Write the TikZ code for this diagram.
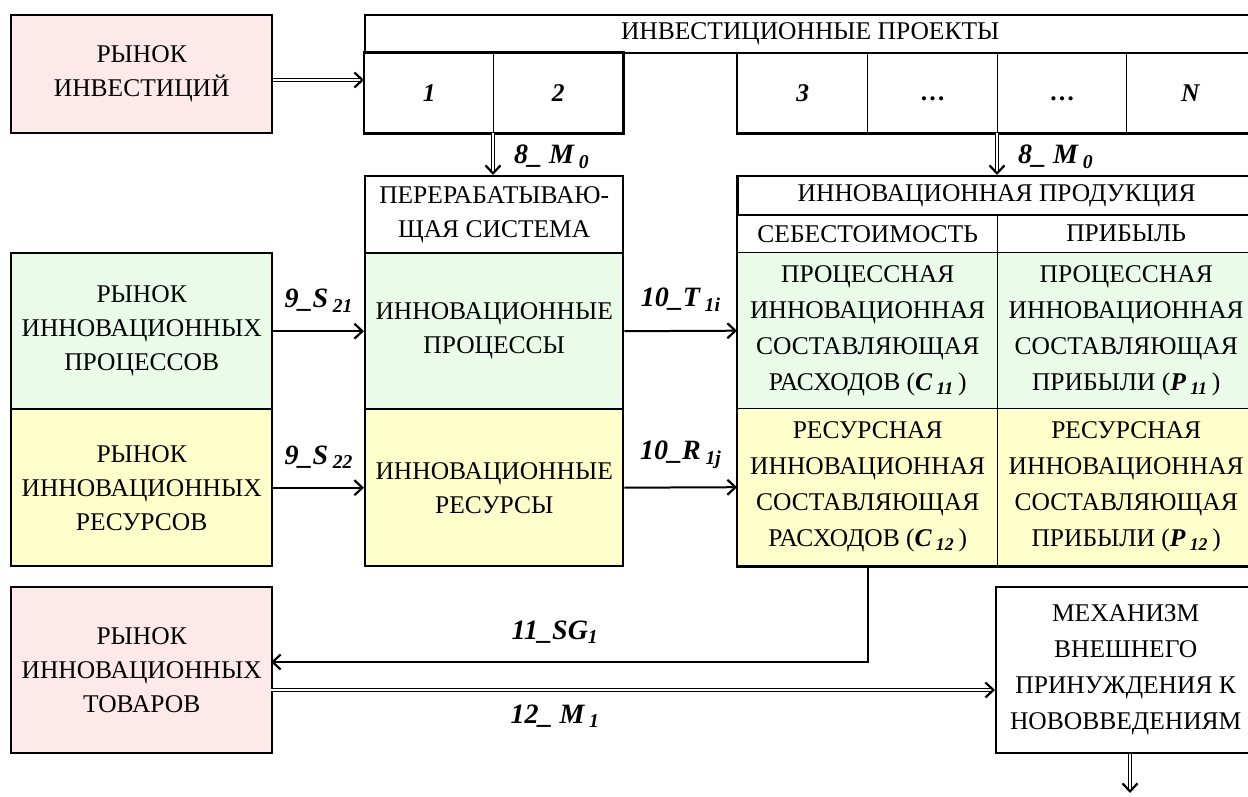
\documentclass[tikz,border=0pt]{standalone}
\usepackage{fontspec}
\setmainfont{Liberation Serif}
\usetikzlibrary{arrows.meta,positioning,calc}

\definecolor{pinkbox}{RGB}{253,233,233}
\definecolor{greenbox}{RGB}{234,251,234}
\definecolor{yellowbox}{RGB}{255,255,204}

\tikzset{
  box/.style={draw, line width=2.4pt, align=center, inner sep=0pt, anchor=north west},
  cell/.style={draw, line width=1.4pt, align=center, inner sep=0pt, anchor=north west},
  sz/.style 2 args={minimum width=#1pt, minimum height=#2pt},
  wide/.style={font=\fontsize{25.5}{36}\selectfont},
  lbl/.style={font=\fontsize{28}{28}\selectfont\bfseries\itshape, inner sep=0pt},
  arr/.style={line width=2pt, -{Straight Barb[length=8pt,width=15pt,line width=2.2pt]}},
  dbl/.style={double, double distance=2.2pt, line width=1.1pt,
    -{Straight Barb[length=8pt,width=15pt,line width=2.2pt]}},
}
\newcommand{\sub}[1]{\textsubscript{#1}}

\begin{document}
\begin{tikzpicture}[x=1pt, y=-1pt, font=\fontsize{25.5}{34}\selectfont]
\useasboundingbox (0,0) rectangle (1248,797);

% Investment market and projects
\node[box, fill=pinkbox, sz={261}{118}] (invmkt) at (10,14) {РЫНОК\\ИНВЕСТИЦИЙ};
\node[box, sz={890}{38}] (projhead) at (364,14) {ИНВЕСТИЦИОННЫЕ ПРОЕКТЫ};
\node[cell, sz={129}{80}] (p1) at (364,52) {\textbf{\textit{1}}};
\node[cell, sz={129}{80}] (p2) at (493,52) {\textbf{\textit{2}}};
\node[cell, sz={130}{80}] (p3) at (737,52) {\textbf{\textit{3}}};
\node[cell, sz={130}{80}] (p4) at (867,52) {\vphantom{1}\textbf{…}};
\node[cell, sz={129}{80}] (p5) at (997,52) {\vphantom{1}\textbf{…}};
\node[cell, sz={128}{80}] (pN) at (1126,52) {\textbf{\textit{N}}};
% outer frame of the project table
\draw[line width=2.4pt] (p1.north west) rectangle (p2.south east);
\draw[line width=2.4pt] (p3.north west) -- (p3.south west) -- (pN.south east);

% Processing system
\node[box, sz={258}{77}] (procsys) at (364,175) {ПЕРЕРАБАТЫВАЮ-\\ЩАЯ СИСТЕМА};
\node[box, fill=greenbox, sz={258}{156}] (procs) at (364,252) {ИННОВАЦИОННЫЕ\\ПРОЦЕССЫ};
\node[box, fill=yellowbox, sz={258}{157}] (res) at (364,408) {ИННОВАЦИОННЫЕ\\РЕСУРСЫ};

% Innovative product table
\node[box, sz={517}{39}] (prodhead) at (737,175) {ИННОВАЦИОННАЯ ПРОДУКЦИЯ};
\node[cell, sz={260}{38}] (cost) at (737,214) {СЕБЕСТОИМОСТЬ};
\node[cell, sz={257}{38}] (profit) at (997,214) {ПРИБЫЛЬ};
\node[cell, wide, fill=greenbox, sz={260}{156}] (c11) at (737,252)
  {ПРОЦЕССНАЯ\\ИННОВАЦИОННАЯ\\СОСТАВЛЯЮЩАЯ\\РАСХОДОВ (\textbf{\textit{C\,\sub{11}}}\,)};
\node[cell, wide, fill=greenbox, sz={257}{156}] (p11) at (997,252)
  {ПРОЦЕССНАЯ\\ИННОВАЦИОННАЯ\\СОСТАВЛЯЮЩАЯ\\ПРИБЫЛИ (\textbf{\textit{P\,\sub{11}}}\,)};
\node[cell, wide, fill=yellowbox, sz={260}{157}] (c12) at (737,408)
  {РЕСУРСНАЯ\\ИННОВАЦИОННАЯ\\СОСТАВЛЯЮЩАЯ\\РАСХОДОВ (\textbf{\textit{C\,\sub{12}}}\,)};
\node[cell, wide, fill=yellowbox, sz={257}{157}] (p12) at (997,408)
  {РЕСУРСНАЯ\\ИННОВАЦИОННАЯ\\СОСТАВЛЯЮЩАЯ\\ПРИБЫЛИ (\textbf{\textit{P\,\sub{12}}}\,)};
\draw[line width=2.4pt] (prodhead.north west) -- (c12.south west) -- (p12.south east);

% Markets on the left
\node[box, fill=greenbox, sz={261}{156}] (mktproc) at (10,252) {РЫНОК\\ИННОВАЦИОННЫХ\\ПРОЦЕССОВ};
\node[box, fill=yellowbox, sz={261}{157}] (mktres) at (10,408) {РЫНОК\\ИННОВАЦИОННЫХ\\РЕСУРСОВ};
\node[box, fill=pinkbox, sz={261}{166}] (mktgoods) at (10,586) {РЫНОК\\ИННОВАЦИОННЫХ\\ТОВАРОВ};
\node[box, wide, sz={259}{166}] (mech) at (995,586) {МЕХАНИЗМ\\ВНЕШНЕГО\\ПРИНУЖДЕНИЯ К\\НОВОВВЕДЕНИЯМ};

% Flows
\coordinate (inin) at (364,80);
\draw[dbl] (invmkt.east |- inin) -- (inin);

\draw[dbl] (p2.south west) -- (p2.south west |- procsys.north);
\node[lbl, anchor=west] (m0a) at (514,157) {8\_ M\,\sub{0}};
\draw[dbl] (p5.south west) -- (p5.south west |- prodhead.north);
\node[lbl, anchor=west] (m0b) at (1018,157) {8\_ M\,\sub{0}};

\draw[arr] (mktproc.east) -- node[lbl, above=18pt] (s21) {9\_S\,\sub{21}} (procs.west);
\draw[arr] (mktres.east) -- node[lbl, above=18pt] (s22) {9\_S\,\sub{22}} (res.west);
\draw[arr] (procs.east) -- node[lbl, above=18pt] (t1i) {10\_T\,\sub{1i}} (c11.west);
\draw[arr] (res.east) -- node[lbl, above=18pt] (r1j) {10\_R\,\sub{1j}} (c12.west);

\coordinate (sgend) at (271,662);
\draw[arr] (c12.south) |- (sgend);
\node[lbl] (sg1) at (555,632) {11\_SG\sub{1}};

\coordinate (mstart) at (271,690);
\draw[dbl] (mstart) -- (mech.west |- mstart);
\node[lbl] (m1) at (555,716) {12\_ M\,\sub{1}};

\coordinate (mechout) at (1130,793);
\draw[dbl] (mech.south -| mechout) -- (mechout);

\end{tikzpicture}
\end{document}
